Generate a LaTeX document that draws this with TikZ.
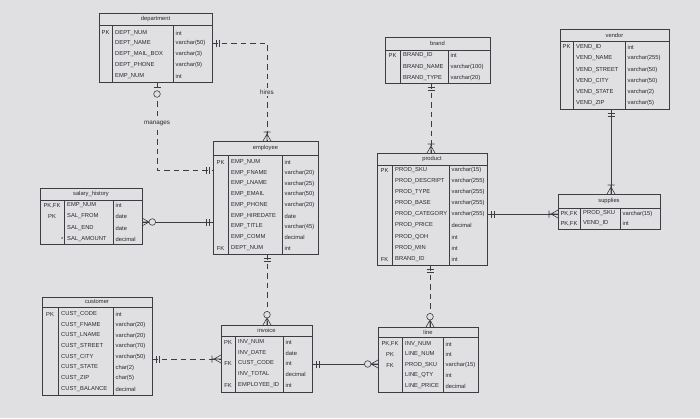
\documentclass[tikz,border=0pt]{standalone}
\usepackage{fontspec}
\setmainfont{Liberation Sans}
\definecolor{paper}{RGB}{224,224,226}
\definecolor{ink}{RGB}{60,60,66}
\definecolor{txt}{RGB}{40,40,46}

% table frame: name, title, x0, y0, x1, y1, title-bottom y, key divider x, name divider x
\newcommand{\tframe}[9]{%
  \node[tbox, minimum width={(#5-#3)*1pt}, minimum height={(#6-#4)*1pt}, anchor=north west] (#1) at (#3,#4) {};
  \node[cell] (#1-title) at ({(#3+#5)/2},{(#4+#7)/2}) {#2};
  \draw[er] (#3,#7) -- (#5,#7) (#8,#7) -- (#8,#6) (#9,#7) -- (#9,#6);
  \gdef\tname{#1}\gdef\tkx{(#3+#8)/2}\gdef\tnx{#8+3}\gdef\ttx{#9+2.5}%
}
% table row: index, y, key, attribute, type
\newcommand{\trow}[5]{%
  \node[cell] (\tname-k#1) at ({\tkx},#2) {#3};
  \node[cell, anchor=west] (\tname-n#1) at ({\tnx},#2) {#4};
  \node[cell, anchor=west] (\tname-t#1) at ({\ttx},#2) {#5};
}
% relationship ends (local frame: x runs away from the table, y across)
\newcommand{\mkOne}[2]{\begin{scope}[shift={(#1)},#2]
  \draw[er] (4,-3.5) -- (4,3.5) (7,-3.5) -- (7,3.5);\end{scope}}
\newcommand{\mkZeroOne}[2]{\begin{scope}[shift={(#1)},#2]
  \draw[er] (5,-3.5) -- (5,3.5);
  \draw[er, fill=paper] (12,0) circle[radius=3.3];\end{scope}}
\newcommand{\mkManyBar}[2]{\begin{scope}[shift={(#1)},#2]
  \draw[er] (0,-4) -- (7,0) -- (0,4) (0,0) -- (9,0) (9,-3.5) -- (9,3.5);\end{scope}}
\newcommand{\mkManyZero}[2]{\begin{scope}[shift={(#1)},#2]
  \draw[er] (0,-4) -- (7,0) -- (0,4) (0,0) -- (7,0);
  \draw[er, fill=paper] (10.3,0) circle[radius=3.3];\end{scope}}

\begin{document}
\begin{tikzpicture}[x=1pt, y=-1pt,
  er/.style={draw=ink, line width=0.6pt},
  tbox/.style={er, inner sep=0pt, outer sep=0pt},
  cell/.style={font=\fontsize{5.8}{6}\selectfont, text=txt, inner sep=0pt},
  rel/.style={er},
  reldash/.style={er, dash pattern=on 5.5pt off 4pt},
  lbl/.style={font=\fontsize{6.3}{7}\selectfont, text=txt, fill=paper, inner sep=1.2pt},
  goR/.style={x={(1pt,0pt)}, y={(0pt,1pt)}},
  goL/.style={x={(-1pt,0pt)}, y={(0pt,1pt)}},
  goU/.style={x={(0pt,1pt)}, y={(1pt,0pt)}},
  goD/.style={x={(0pt,-1pt)}, y={(1pt,0pt)}}]

\fill[paper] (0,0) rectangle (700,418);
\useasboundingbox (0,0) rectangle (700,418);

% ---------- tables ----------
\tframe{dep}{department}{99}{13}{212}{82}{25}{112}{173}
\trow{1}{33}{PK}{DEPT\_NUM}{int}
\trow{2}{43}{}{DEPT\_NAME}{varchar(50)}
\trow{3}{54}{}{DEPT\_MAIL\_BOX}{varchar(3)}
\trow{4}{65}{}{DEPT\_PHONE}{varchar(9)}
\trow{5}{76}{}{EMP\_NUM}{int}

\tframe{br}{brand}{385}{37}{490}{83}{50}{400}{448}
\trow{1}{55.5}{PK}{BRAND\_ID}{int}
\trow{2}{67}{}{BRAND\_NAME}{varchar(100)}
\trow{3}{78}{}{BRAND\_TYPE}{varchar(20)}

\tframe{ven}{vendor}{560}{29}{669}{109}{41}{573}{625}
\trow{1}{47}{PK}{VEND\_ID}{int}
\trow{2}{58}{}{VEND\_NAME}{varchar(255)}
\trow{3}{70}{}{VEND\_STREET}{varchar(50)}
\trow{4}{81}{}{VEND\_CITY}{varchar(50)}
\trow{5}{92}{}{VEND\_STATE}{varchar(2)}
\trow{6}{103}{}{VEND\_ZIP}{varchar(5)}

\tframe{emp}{employee}{213}{141}{318}{254}{155}{228}{282}
\trow{1}{162}{PK}{EMP\_NUM}{int}
\trow{2}{173}{}{EMP\_FNAME}{varchar(20)}
\trow{3}{183.5}{}{EMP\_LNAME}{varchar(25)}
\trow{4}{194}{}{EMP\_EMAIL}{varchar(50)}
\trow{5}{205}{}{EMP\_PHONE}{varchar(20)}
\trow{6}{216}{}{EMP\_HIREDATE}{date}
\trow{7}{226.5}{}{EMP\_TITLE}{varchar(45)}
\trow{8}{237}{}{EMP\_COMM}{decimal}
\trow{9}{248}{FK}{DEPT\_NUM}{int}

\tframe{pr}{product}{377}{153}{487}{265}{165}{392}{449}
\trow{1}{170}{PK}{PROD\_SKU}{varchar(15)}
\trow{2}{181}{}{PROD\_DESCRIPT}{varchar(255)}
\trow{3}{192}{}{PROD\_TYPE}{varchar(255)}
\trow{4}{203}{}{PROD\_BASE}{varchar(255)}
\trow{5}{214}{}{PROD\_CATEGORY}{varchar(255)}
\trow{6}{225.5}{}{PROD\_PRICE}{decimal}
\trow{7}{237}{}{PROD\_QOH}{int}
\trow{8}{248}{}{PROD\_MIN}{int}
\trow{9}{259}{FK}{BRAND\_ID}{int}

\tframe{sal}{salary\_history}{40}{188}{142}{244}{200}{64}{113}
\trow{1}{205.5}{PK,FK}{EMP\_NUM}{int}
\trow{2}{216.5}{PK}{SAL\_FROM}{date}
\trow{3}{228}{}{SAL\_END}{date}
\trow{4}{239}{}{SAL\_AMOUNT}{decimal}
\node[cell, anchor=east] (sal-star) at (63.5,239.5) {*};

\tframe{sup}{supplies}{558}{194}{660}{229}{208}{580}{620}
\trow{1}{213.5}{PK,FK}{PROD\_SKU}{varchar(15)}
\trow{2}{223.5}{PK,FK}{VEND\_ID}{int}

\tframe{cus}{customer}{42}{297}{152}{395}{307}{58}{113}
\trow{1}{314}{PK}{CUST\_CODE}{int}
\trow{2}{325}{}{CUST\_FNAME}{varchar(20)}
\trow{3}{335.5}{}{CUST\_LNAME}{varchar(20)}
\trow{4}{346}{}{CUST\_STREET}{varchar(70)}
\trow{5}{357}{}{CUST\_CITY}{varchar(50)}
\trow{6}{367.5}{}{CUST\_STATE}{char(2)}
\trow{7}{378}{}{CUST\_ZIP}{char(5)}
\trow{8}{389}{}{CUST\_BALANCE}{decimal}

\tframe{inv}{invoice}{221}{325}{312}{392}{336}{235}{283}
\trow{1}{342}{PK}{INV\_NUM}{int}
\trow{2}{353}{}{INV\_DATE}{date}
\trow{3}{363.5}{FK}{CUST\_CODE}{int}
\trow{4}{374}{}{INV\_TOTAL}{decimal}
\trow{5}{385}{FK}{EMPLOYEE\_ID}{int}

\tframe{lin}{line}{378}{327}{478}{392}{337}{402}{443}
\trow{1}{344}{PK,FK}{INV\_NUM}{int}
\trow{2}{354.5}{PK}{LINE\_NUM}{int}
\trow{3}{365}{FK}{PROD\_SKU}{varchar(15)}
\trow{4}{375.5}{}{LINE\_QTY}{int}
\trow{5}{386}{}{LINE\_PRICE}{decimal}

% ---------- connector end points ----------
\coordinate (dep-h) at (dep.east |- 0,43);
\coordinate (emp-h) at (emp.north -| 267,0);
\coordinate (dep-m) at (dep.south -| 157,0);
\coordinate (emp-m) at (emp.west |- 0,170);
\coordinate (emp-s) at (emp.west |- 0,222);
\coordinate (sal-e) at (sal.east |- 0,222);
\coordinate (br-p)  at (br.south -| 431,0);
\coordinate (pr-b)  at (pr.north -| 431,0);
\coordinate (ven-s) at (ven.south -| 611,0);
\coordinate (sup-v) at (sup.north -| 611,0);
\coordinate (pr-s)  at (pr.east |- 0,214);
\coordinate (sup-p) at (sup.west |- 0,214);
\coordinate (emp-i) at (emp.south -| 267,0);
\coordinate (inv-e) at (inv.north -| 267,0);
\coordinate (cus-i) at (cus.east |- 0,359);
\coordinate (inv-c) at (inv.west |- 0,359);
\coordinate (pr-l)  at (pr.south -| 430,0);
\coordinate (lin-p) at (lin.north -| 430,0);
\coordinate (inv-l) at (inv.east |- 0,364);
\coordinate (lin-i) at (lin.west |- 0,364);

% ---------- connectors ----------
\draw[reldash] (dep-h) -| (emp-h);
\draw[reldash] (dep-m) |- (emp-m);
\draw[rel] (emp-s) -- (sal-e);
\draw[reldash] (br-p) -- (pr-b);
\draw[rel] (ven-s) -- (sup-v);
\draw[rel] (pr-s) -- (sup-p);
\draw[reldash] (emp-i) -- (inv-e);
\draw[reldash] (cus-i) -- (inv-c);
\draw[reldash] (pr-l) -- (lin-p);
\draw[rel] (inv-l) -- (lin-i);

\node[lbl] (hires) at (267,92) {hires};
\node[lbl] (manages) at (157,123) {manages};

% ---------- cardinality marks ----------
\mkOne{dep-h}{goR}      \mkManyBar{emp-h}{goU}
\mkZeroOne{dep-m}{goD}  \mkOne{emp-m}{goL}
\mkOne{emp-s}{goL}      \mkManyZero{sal-e}{goR}
\mkOne{br-p}{goD}       \mkManyBar{pr-b}{goU}
\mkOne{ven-s}{goD}      \mkManyBar{sup-v}{goU}
\mkOne{pr-s}{goR}       \mkManyBar{sup-p}{goL}
\mkOne{emp-i}{goD}      \mkManyZero{inv-e}{goU}
\mkOne{cus-i}{goR}      \mkManyBar{inv-c}{goL}
\mkOne{pr-l}{goD}       \mkManyZero{lin-p}{goU}
\mkOne{inv-l}{goR}      \mkManyZero{lin-i}{goL}

\end{tikzpicture}
\end{document}
